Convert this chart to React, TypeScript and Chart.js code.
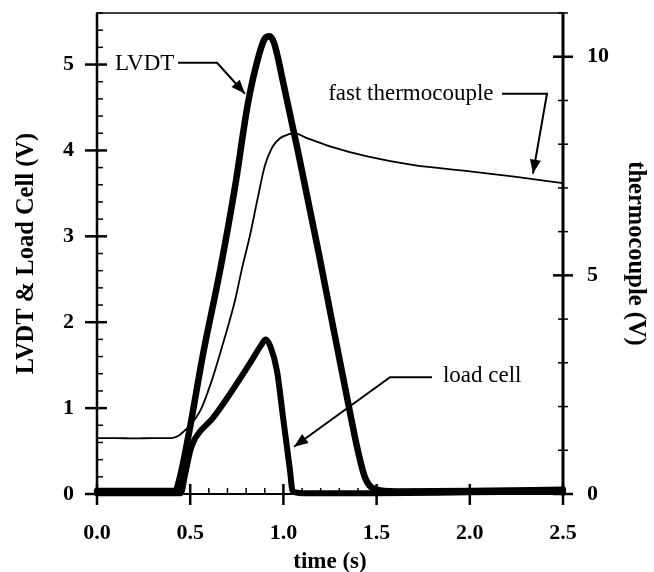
import React, { useEffect, useRef } from "react";
import { Chart, registerables } from "chart.js";

Chart.register(...registerables);

// ---- data ----
const lvdtTime = [0, 0.1, 0.2, 0.3, 0.42, 0.44, 0.49, 0.57, 0.66, 0.74, 0.81, 0.87, 0.9, 0.925, 0.95, 1.0, 1.08, 1.19, 1.26, 1.35, 1.4, 1.44, 1.5, 1.6, 2.0, 2.5];
const lvdtVolts = [0.035, 0.035, 0.035, 0.035, 0.035, 0.15, 0.67, 1.64, 2.6, 3.57, 4.55, 5.12, 5.3, 5.33, 5.25, 4.78, 3.97, 2.8, 2.02, 1.03, 0.5, 0.18, 0.05, 0.03, 0.035, 0.05];

const loadTime = [0, 0.1, 0.2, 0.3, 0.45, 0.47, 0.5, 0.52, 0.55, 0.62, 0.73, 0.82, 0.88, 0.905, 0.93, 0.965, 1.0, 1.035, 1.05, 1.1, 1.5, 2.0, 2.5];
const loadVolts = [0.01, 0.01, 0.01, 0.01, 0.01, 0.2, 0.5, 0.62, 0.72, 0.88, 1.22, 1.52, 1.73, 1.8, 1.72, 1.44, 0.86, 0.28, 0.03, 0.01, 0.01, 0.02, 0.03];

const thermoTime = [0, 0.1, 0.2, 0.3, 0.4, 0.44, 0.47, 0.5, 0.56, 0.62, 0.68, 0.74, 0.78, 0.82, 0.86, 0.9, 0.94, 0.98, 1.03, 1.06, 1.12, 1.25, 1.45, 1.7, 2.0, 2.25, 2.5];
const thermoVolts = [1.28, 1.28, 1.27, 1.28, 1.28, 1.34, 1.45, 1.57, 1.96, 2.65, 3.5, 4.42, 5.2, 5.9, 6.72, 7.5, 7.93, 8.13, 8.23, 8.25, 8.15, 7.95, 7.72, 7.52, 7.38, 7.25, 7.11];

const timeTicks = [0, 0.5, 1, 1.5, 2, 2.5];
const leftTicks = [0, 1, 2, 3, 4, 5];
const rightTicks = [0, 5, 10];

// annotations in data coordinates (time, left-axis volts)
const annotationLabels = ["LVDT", "fast thermocouple", "load cell"];
const annotationTextAt = [
  [0.097, 5.01],
  [1.24, 4.66],
  [1.856, 1.37],
];
const annotationPaths = [
  [[0.435, 5.02], [0.644, 5.02], [0.794, 4.66]],
  [[2.173, 4.66], [2.414, 4.66], [2.339, 3.73]],
  [[1.797, 1.36], [1.572, 1.36], [1.057, 0.55]],
];

const FONT = "'Liberation Serif', 'Times New Roman', serif";

const framePlugin = {
  id: "frame",
  beforeDatasetsDraw(chart: any) {
    const { ctx, chartArea: a, scales } = chart;
    const xs = scales.x;
    const yl = scales.y;
    const yr = scales.y2;
    const seg = (x1: number, y1: number, x2: number, y2: number, w: number) => {
      ctx.lineWidth = w;
      ctx.beginPath();
      ctx.moveTo(x1, y1);
      ctx.lineTo(x2, y2);
      ctx.stroke();
    };
    ctx.save();
    ctx.strokeStyle = "#000";
    ctx.lineCap = "butt";
    seg(a.left - 1, a.top, a.right + 1, a.top, 1.5);
    seg(a.left, a.top, a.left, a.bottom + 2, 2.5);
    seg(a.right, a.top - 1, a.right, a.bottom + 2, 3);
    seg(a.left, a.bottom, a.right, a.bottom, 2);
    // left axis ticks
    for (let i = 0; i <= 28; i++) {
      const v = i * 0.2;
      const py = yl.getPixelForValue(v);
      if (i % 5 === 0) seg(a.left - 12, py, a.left + 10, py, 2.5);
      else seg(a.left, py, a.left + 6, py, 1.5);
    }
    // right axis ticks
    for (let v = 0; v <= 11; v++) {
      const py = yr.getPixelForValue(v);
      if (v % 5 === 0) seg(a.right - 10, py, a.right + 10, py, 2.5);
      else seg(a.right - 5, py, a.right + 5, py, 1.5);
    }
    // bottom ticks
    for (let i = 0; i <= 25; i++) {
      const px = xs.getPixelForValue(i * 0.1);
      if (i % 5 === 0) seg(px, a.bottom - 10, px, a.bottom + 11, 2.5);
      else seg(px, a.bottom - 6, px, a.bottom, 1.5);
    }
    ctx.restore();
  },
  afterDatasetsDraw(chart: any) {
    const { ctx, scales } = chart;
    const xs = scales.x;
    const yl = scales.y;
    ctx.save();
    ctx.fillStyle = "#000";
    ctx.strokeStyle = "#000";
    ctx.font = `23px ${FONT}`;
    ctx.textAlign = "left";
    ctx.textBaseline = "middle";
    annotationLabels.forEach((label, i) => {
      const [tx, ty] = annotationTextAt[i];
      ctx.fillText(label, xs.getPixelForValue(tx), yl.getPixelForValue(ty));
      const pts = annotationPaths[i].map(([t, v]) => [xs.getPixelForValue(t), yl.getPixelForValue(v)]);
      ctx.lineWidth = 2;
      ctx.lineJoin = "miter";
      ctx.beginPath();
      pts.forEach(([px, py], k) => (k === 0 ? ctx.moveTo(px, py) : ctx.lineTo(px, py)));
      ctx.stroke();
      const [x1, y1] = pts[pts.length - 2];
      const [x2, y2] = pts[pts.length - 1];
      const ang = Math.atan2(y2 - y1, x2 - x1);
      const len = 14;
      const half = 5.5;
      const bx = x2 - len * Math.cos(ang);
      const by = y2 - len * Math.sin(ang);
      ctx.beginPath();
      ctx.moveTo(x2, y2);
      ctx.lineTo(bx + half * Math.sin(ang), by - half * Math.cos(ang));
      ctx.lineTo(bx - half * Math.sin(ang), by + half * Math.cos(ang));
      ctx.closePath();
      ctx.fill();
    });
    ctx.restore();
  },
};

export default function App() {
  const ref = useRef<HTMLCanvasElement | null>(null);
  useEffect(() => {
    document.body.style.margin = "0";
    const canvas = ref.current;
    if (!canvas) return;
    const toPts = (xs: number[], ys: number[]) => xs.map((x, i) => ({ x, y: ys[i] }));
    const vFit = (w: number) => (s: any) => {
      s.width = w;
      s.paddingTop = 0;
      s.paddingBottom = 0;
    };
    const chart = new Chart(canvas, {
      type: "line",
      data: {
        datasets: [
          {
            label: "fast thermocouple",
            data: toPts(thermoTime, thermoVolts),
            yAxisID: "y2",
            borderColor: "#000",
            borderWidth: 1.8,
            pointRadius: 0,
            cubicInterpolationMode: "monotone",
            clip: 10,
          },
          {
            label: "LVDT",
            data: toPts(lvdtTime, lvdtVolts),
            yAxisID: "y",
            borderColor: "#000",
            borderWidth: 6.5,
            pointRadius: 0,
            borderJoinStyle: "round",
            borderCapStyle: "round",
            cubicInterpolationMode: "monotone",
            clip: 10,
          },
          {
            label: "load cell",
            data: toPts(loadTime, loadVolts),
            yAxisID: "y",
            borderColor: "#000",
            borderWidth: 6,
            pointRadius: 0,
            borderJoinStyle: "round",
            borderCapStyle: "round",
            cubicInterpolationMode: "monotone",
            clip: 10,
          },
        ],
      },
      options: {
        animation: false,
        responsive: false,
        layout: { padding: { top: 13, left: 0, right: 0, bottom: 0 } },
        plugins: { legend: { display: false }, tooltip: { enabled: false } },
        scales: {
          x: {
            type: "linear",
            min: 0,
            max: 2.5,
            grid: { display: false, drawTicks: false, tickLength: 0 },
            border: { display: false },
            afterBuildTicks: (s: any) => {
              s.ticks = timeTicks.map((value) => ({ value }));
            },
            afterFit: (s: any) => {
              s.height = 78;
              s.paddingLeft = 0;
              s.paddingRight = 0;
            },
            ticks: {
              padding: 26,
              color: "#000",
              maxRotation: 0,
              autoSkip: false,
              font: { family: FONT, size: 22, weight: "bold" },
              callback: (v: any) => Number(v).toFixed(1),
            },
            title: {
              display: true,
              text: "time (s)",
              color: "#000",
              padding: { top: 0, bottom: -2 },
              font: { family: FONT, size: 23, weight: "bold", lineHeight: 1 },
            },
          },
          y: {
            type: "linear",
            position: "left",
            min: 0,
            max: 5.6,
            grid: { display: false, drawTicks: false, tickLength: 0 },
            border: { display: false },
            afterBuildTicks: (s: any) => {
              s.ticks = leftTicks.map((value) => ({ value }));
            },
            afterFit: vFit(97),
            ticks: {
              padding: 23,
              color: "#000",
              autoSkip: false,
              font: { family: FONT, size: 22, weight: "bold" },
              callback: (v: any) => String(v),
            },
            title: {
              display: true,
              text: "LVDT & Load Cell (V)",
              color: "#000",
              padding: { top: 14, bottom: 0 },
              font: { family: FONT, size: 24.5, weight: "bold", lineHeight: 1 },
            },
          },
          y2: {
            type: "linear",
            position: "right",
            min: 0,
            max: 11,
            grid: { display: false, drawTicks: false, tickLength: 0 },
            border: { display: false },
            afterBuildTicks: (s: any) => {
              s.ticks = rightTicks.map((value) => ({ value }));
            },
            afterFit: vFit(91),
            ticks: {
              padding: 24,
              color: "#000",
              autoSkip: false,
              font: { family: FONT, size: 22, weight: "bold" },
              callback: (v: any) => String(v),
            },
            title: {
              display: true,
              text: "thermocouple (V)",
              color: "#000",
              padding: { top: 6, bottom: 0 },
              font: { family: FONT, size: 24.5, weight: "bold", lineHeight: 1 },
            },
          },
        },
      } as any,
      plugins: [framePlugin],
    });
    return () => chart.destroy();
  }, []);
  return (
    <div style={{ width: 654, height: 572, background: "#fff" }}>
      <canvas ref={ref} width={654} height={572} style={{ display: "block" }} />
    </div>
  );
}
